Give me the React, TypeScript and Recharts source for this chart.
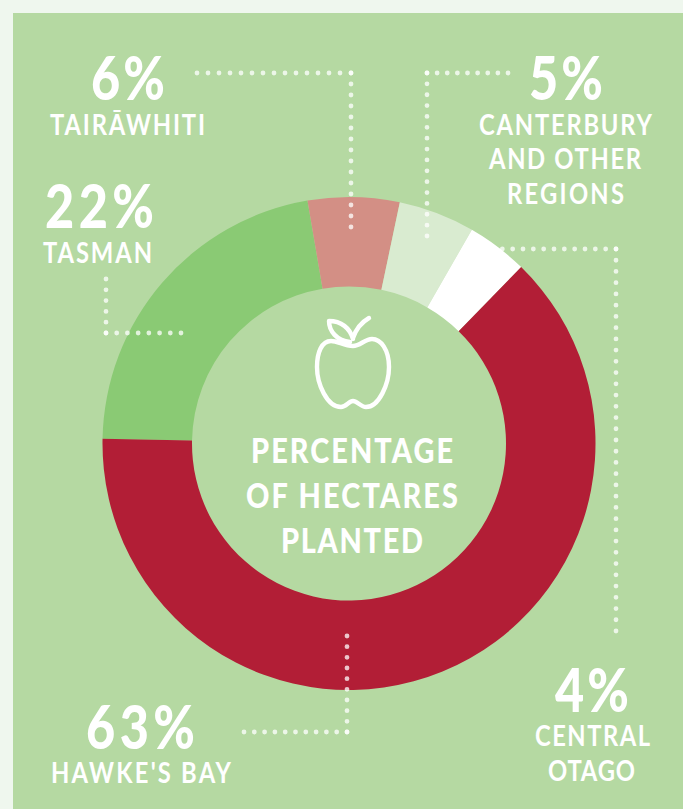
import { PieChart, Pie, Cell } from 'recharts';

const regions = ['Tasman', 'Tairāwhiti', 'Canterbury and other regions', 'Central Otago', "Hawke's Bay"];
const hectaresPct = [22, 6, 5, 4, 63];
const sliceColors = ['#8aca74', '#d38f85', '#d9ebd0', '#ffffff', '#b21e36'];

const tableData = regions.map((name, i) => ({ name, value: hectaresPct[i] }));

const WHITE = '#ffffff';
const FONT = 'Lato, "Open Sans", sans-serif';

// Lato squeezed sideways stands in for a condensed face; the span is set per line
function Txt({ x, y, w, size, weight = 700, squeeze = 0.85, children }: { x: number; y: number; w: number; size: number; weight?: number; squeeze?: number; children: string }) {
  return (
    <text
      transform={`translate(${x} ${y}) scale(${squeeze} 1)`}
      fill={WHITE}
      fontFamily={FONT}
      fontSize={size}
      fontWeight={weight}
      textLength={w / squeeze}
      lengthAdjust="spacing"
    >
      {children}
    </text>
  );
}

function Pct({ x, y, w, value }: { x: number; y: number; w: number; value: number }) {
  return <Txt x={x} y={y} w={w} size={60} weight={900} squeeze={0.84}>{`${value}%`}</Txt>;
}

// one straight run of dots, counted out from the corner so both ends land on a dot
function Leg({ x1, y1, x2, y2, gaps }: { x1: number; y1: number; x2: number; y2: number; gaps: number }) {
  const len = Math.hypot(x2 - x1, y2 - y1);
  const ex = x2 + (x2 - x1) / len;
  const ey = y2 + (y2 - y1) / len;
  return (
    <path
      d={`M${x1} ${y1} L${ex} ${ey}`}
      fill="none"
      stroke="#ffffff"
      strokeOpacity={0.75}
      strokeWidth={4.8}
      strokeLinecap="round"
      strokeDasharray={`0 ${len / gaps}`}
    />
  );
}

function Apple() {
  return (
    <g fill="none" stroke={WHITE} strokeWidth={4.4} strokeLinecap="round" strokeLinejoin="round">
      <path d="M353 346 C344 346 338 341 331 341 C322 341 317 352 317 367 C317 384 327 407 341 407 C346 407 349 401 353 401 C357 401 361 407 366 407 C379 407 389 384 389 367 C389 350 381 339 372 339 C365 339 360 346 353 346 Z" />
      <path d="M353 339 C350 328 341 321 329 321 C329 331 337 341 350 342" />
      <path d="M353 338 C356 329 362 322 369 318" />
    </g>
  );
}

export default function App() {
  return (
    <div style={{ position: 'absolute', left: 0, top: 0, width: 683, height: 809, background: '#eff7ee' }}>
      <div style={{ position: 'absolute', left: 13, top: 13, width: 670, height: 796, background: '#b5d9a2' }} />
      <div style={{ position: 'absolute', left: 0, top: 0 }}>
        <PieChart width={683} height={809} margin={{ top: 0, right: 0, bottom: 0, left: 0 }}>
          <Pie
            data={tableData}
            dataKey="value"
            nameKey="name"
            cx={349}
            cy={443.5}
            innerRadius={157}
            outerRadius={246.5}
            startAngle={178.9}
            endAngle={-181.1}
            stroke="none"
            isAnimationActive={false}
          >
            {tableData.map((d, i) => (
              <Cell key={d.name} fill={sliceColors[i]} />
            ))}
          </Pie>
        </PieChart>
      </div>

      {/* dotted leaders and captions sit above the ring */}
      <svg width={683} height={809} style={{ position: 'absolute', left: 0, top: 0 }}>
        <Leg x1={351} y1={73} x2={197} y2={73} gaps={14} />
        <Leg x1={351} y1={73} x2={351} y2={227} gaps={14} />
        <Leg x1={427} y1={73} x2={508} y2={73} gaps={8} />
        <Leg x1={427} y1={73} x2={427} y2={236} gaps={15} />
        <Leg x1={616} y1={249} x2={492} y2={249} gaps={12} />
        <Leg x1={616} y1={249} x2={616} y2={631} gaps={34} />
        <Leg x1={106} y1={333} x2={106} y2={279} gaps={5} />
        <Leg x1={106} y1={333} x2={181} y2={333} gaps={7} />
        <Leg x1={347} y1={732} x2={347} y2={636} gaps={9} />
        <Leg x1={347} y1={732} x2={244} y2={732} gaps={10} />

        <Apple />

        <Pct x={91} y={100} w={74} value={hectaresPct[1]} />
        <Txt x={50} y={135} w={155} size={28}>TAIRĀWHITI</Txt>

        <Pct x={45} y={228} w={109} value={hectaresPct[0]} />
        <Txt x={43} y={263} w={109} size={28}>TASMAN</Txt>

        <Pct x={529} y={100} w={74} value={hectaresPct[2]} />
        <Txt x={479} y={135} w={173} size={28}>CANTERBURY</Txt>
        <Txt x={489} y={169} w={152} size={28}>AND OTHER</Txt>
        <Txt x={507} y={204} w={117} size={28}>REGIONS</Txt>

        <Pct x={555} y={712} w={74} value={hectaresPct[3]} />
        <Txt x={535} y={746} w={115} size={28}>CENTRAL</Txt>
        <Txt x={548} y={781} w={87} size={28}>OTAGO</Txt>

        <Pct x={86} y={749} w={109} value={hectaresPct[4]} />
        <Txt x={51} y={783} w={180} size={28}>HAWKE'S BAY</Txt>

        <Txt x={251} y={463} w={202} size={34} weight={900}>PERCENTAGE</Txt>
        <Txt x={246} y={508} w={212} size={34} weight={900}>OF HECTARES</Txt>
        <Txt x={281} y={553} w={142} size={34} weight={900}>PLANTED</Txt>
      </svg>
    </div>
  );
}
